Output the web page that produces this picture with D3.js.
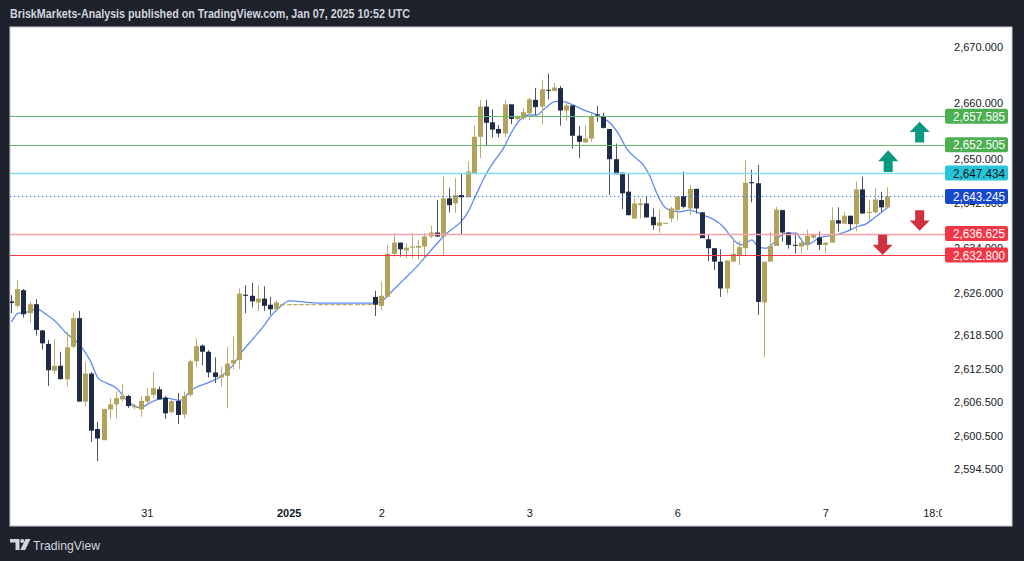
<!DOCTYPE html>
<html><head><meta charset="utf-8">
<script src="https://cdn.jsdelivr.net/npm/d3@7"></script>
<style>html,body{margin:0;padding:0;background:#1e222d;} svg{display:block}</style>
</head><body><svg id="c" width="1024" height="561"></svg>
<script>
// ---- DATA (hourly XAUUSD candles, index 0 = first visible candle) ----
const openP = [2624.5,2623.7,2626.5,2622.4,2624.0,2619.3,2616.9,2612.1,2613.0,2610.6,
2616.4,2621.5,2606.6,2611.6,2601.7,2599.7,2605.2,2606.1,2607.0,2607.6,
2605.6,2605.2,2606.6,2607.8,2608.8,2607.3,2604.7,2606.7,2604.3,2607.8,
2613.8,2616.6,2615.5,2611.8,2610.9,2611.2,2613.4,2614.0,2625.7,2625.5,
2624.3,2625.0,2623.9,2623.1,
2624.0,2624.0,2624.0,2624.0,2624.0,2624.0,2624.0,2624.0,2624.0,2624.0,2624.0,2624.0,2624.0,2624.0,2624.0,
2625.3,2623.7,2625.3,2633.0,2635.0,2633.6,2634.1,2634.1,2634.3,2636.1,
2636.8,2636.1,2642.9,2642.0,2643.5,2643.1,2647.4,2653.9,2659.3,2656.5,
2655.3,2654.5,2659.7,2657.1,2657.2,2658.1,2660.5,2659.3,2662.3,2662.1,
2662.6,2658.6,2659.5,2654.1,2652.9,2653.6,2657.9,2657.5,2655.3,2649.9,
2647.5,2644.1,2639.3,2641.7,2642.0,2639.6,2638.0,2638.4,2639.3,2640.8,
2643.3,2641.1,2644.6,2640.4,2635.6,2634.0,2631.6,2626.8,2631.6,2632.8,
2634.0,2645.8,2645.6,2624.3,2631.6,2634.4,2640.8,2636.8,2634.6,2634.3,
2634.7,2635.9,2635.9,2634.6,2635.0,2639.0,2638.4,2639.8,2638.3,2644.5,
2640.3,2640.4,2642.6,2641.3];
const highP = [2625.6,2628.3,2626.7,2624.4,2624.9,2619.4,2617.6,2617.8,2615.5,2619.0,
2622.5,2622.8,2613.7,2611.9,2603.0,2605.3,2607.2,2608.4,2609.7,2607.8,
2606.2,2607.6,2609.0,2611.9,2609.3,2607.6,2606.9,2608.1,2608.4,2614.1,
2617.9,2616.8,2615.8,2614.5,2612.8,2616.4,2618.2,2626.8,2627.4,2627.8,
2627.4,2627.2,2625.3,2624.7,
2624.0,2624.0,2624.0,2624.0,2624.0,2624.0,2624.0,2624.0,2624.0,2624.0,2624.0,2624.0,2624.0,2624.0,2624.0,
2626.4,2628.0,2634.6,2636.7,2635.0,2634.9,2636.7,2635.5,2636.7,2638.0,
2642.6,2646.8,2644.8,2646.5,2647.4,2649.5,2656.0,2660.5,2660.5,2658.8,
2656.0,2660.5,2659.7,2657.7,2659.0,2660.9,2662.6,2664.1,2665.2,2663.5,
2663.0,2660.2,2659.5,2655.8,2656.0,2658.1,2659.4,2658.2,2655.3,2652.7,
2647.5,2647.4,2642.9,2642.9,2643.2,2641.1,2640.9,2638.6,2641.4,2643.2,
2647.7,2645.3,2644.6,2640.5,2636.4,2634.0,2633.8,2631.8,2635.8,2635.2,
2649.7,2648.0,2648.9,2631.6,2637.0,2641.4,2640.9,2636.8,2636.7,2635.8,
2637.3,2636.6,2637.0,2635.0,2641.3,2641.3,2640.5,2639.8,2645.9,2646.8,
2642.6,2644.7,2644.1,2644.9];
const lowP = [2622.4,2623.3,2621.6,2620.6,2618.4,2615.9,2609.4,2611.5,2610.6,2609.3,
2616.1,2606.6,2605.7,2599.4,2596.0,2599.7,2603.5,2603.6,2606.6,2605.5,
2605.2,2603.9,2606.0,2607.2,2607.0,2603.5,2604.5,2602.6,2603.6,2607.5,
2612.8,2613.1,2610.9,2609.9,2609.3,2605.4,2612.4,2612.4,2622.4,2623.4,
2622.8,2622.8,2622.1,2623.0,
2624.0,2624.0,2624.0,2624.0,2624.0,2624.0,2624.0,2624.0,2624.0,2624.0,2624.0,2624.0,2624.0,2624.0,2624.0,
2621.9,2623.0,2625.2,2632.5,2632.5,2632.2,2632.2,2632.0,2632.2,2635.8,
2636.0,2632.8,2640.4,2640.3,2636.4,2643.1,2647.4,2650.1,2652.4,2653.8,
2653.8,2653.9,2656.2,2656.8,2656.9,2656.9,2657.8,2656.1,2660.6,2662.1,
2655.9,2656.8,2651.8,2650.1,2652.9,2653.0,2656.6,2655.4,2643.5,2647.2,
2641.0,2639.9,2639.3,2639.3,2639.5,2637.3,2636.8,2638.3,2638.6,2639.0,
2641.1,2639.9,2640.2,2635.8,2631.7,2630.1,2625.3,2625.9,2631.6,2631.0,
2632.7,2642.2,2622.1,2614.6,2631.6,2634.4,2635.2,2633.9,2633.1,2633.1,
2633.7,2635.7,2633.7,2633.1,2635.0,2637.0,2638.3,2637.3,2637.0,2640.1,
2638.7,2640.2,2640.5,2641.3];
const closeP = [2624.2,2626.7,2622.2,2624.0,2619.4,2617.0,2612.2,2613.0,2610.6,2616.3,
2621.5,2606.6,2611.6,2601.4,2600.0,2605.3,2606.1,2607.2,2607.6,2605.8,
2605.9,2606.7,2607.6,2609.0,2607.0,2604.5,2606.7,2604.2,2607.6,2613.8,
2616.5,2615.5,2611.8,2611.0,2611.3,2613.4,2614.0,2625.9,2625.5,2624.5,
2625.0,2623.7,2623.1,2624.3,
2624.0,2624.0,2624.0,2624.0,2624.0,2624.0,2624.0,2624.0,2624.0,2624.0,2624.0,2624.0,2624.0,2624.0,2624.0,
2623.9,2625.5,2633.0,2635.0,2633.8,2634.1,2634.3,2634.4,2636.1,2636.8,
2636.1,2642.9,2641.7,2643.5,2643.1,2647.7,2653.9,2659.3,2656.4,2655.2,
2654.5,2659.7,2657.1,2657.5,2658.3,2660.6,2659.2,2662.4,2662.2,2662.7,
2658.6,2659.5,2654.1,2653.0,2653.6,2657.5,2657.7,2655.5,2649.9,2647.2,
2643.8,2639.9,2642.0,2642.0,2639.5,2638.1,2638.6,2638.5,2641.1,2643.2,
2641.4,2644.6,2641.1,2635.8,2634.0,2631.6,2626.8,2631.8,2633.0,2634.2,
2645.7,2645.6,2624.4,2631.6,2634.4,2640.9,2636.8,2634.6,2634.5,2635.0,
2636.2,2636.4,2634.6,2635.0,2639.0,2638.4,2639.8,2638.3,2644.5,2640.2,
2640.5,2642.7,2641.3,2643.245];

// moving average (candle index, price)
const maIdx = [0,1.1,2.2,4.1,5.7,6.8,8.9,11.1,12.7,14.1,15.4,17.0,18.9,20.8,23.0,25.1,27.3,29.2,31.9,34.1,35.9,37.3,39.2,40.8,42.2,43.5,45.0,49.5,58.6,60.2,61.3,63.5,65.7,67.8,70.0,74.0,75.4,77.0,78.4,79.7,81.1,82.4,83.8,85.1,86.5,88.1,89.4,91.0,92.7,94.3,95.9,97.2,98.5,99.7,101.3,102.4,103.5,104.6,105.6,106.7,108.3,109.9,111.0,112.1,113.7,115.4,116.4,117.5,118.5,120.0,121.0,122.4,123.2,124.5,125.9,127.2,128.0,128.9,130.0,131.0,133.7,135.4,137.0,138.6,139.7,141.1,142.1];
const maVal = [2620.8,2622.4,2622.5,2623.1,2622.1,2621.2,2618.8,2616.7,2614.0,2610.7,2609.9,2609.0,2606.6,2605.5,2606.7,2607.2,2606.8,2608.7,2610.0,2611.2,2613.1,2615.4,2617.9,2620.0,2622.1,2623.5,2624.6,2624.2,2624.2,2624.7,2625.9,2628.3,2630.7,2633.4,2636.1,2640.5,2643.8,2647.4,2649.8,2651.8,2654.8,2656.9,2657.8,2657.8,2659.0,2660.2,2660.2,2659.6,2658.7,2658.1,2657.2,2656.2,2654.2,2651.8,2650.0,2648.9,2646.8,2643.8,2641.7,2640.8,2640.5,2640.8,2640.5,2639.9,2639.2,2637.8,2636.4,2635.0,2634.6,2635.5,2634.3,2634.0,2634.6,2636.1,2636.7,2636.7,2635.5,2634.6,2635.2,2635.9,2636.4,2637.0,2637.8,2638.4,2639.3,2640.5,2641.3];

// horizontal levels
const levelVals = [2657.585, 2652.505, 2647.434, 2643.245, 2636.625, 2632.800];
const levelKind = ["green","green","cyan","last","redLight","red"];

// axis ticks
const priceTicks = [2670, 2660, 2650, 2642, 2634, 2626, 2618.5, 2612.5, 2606.5, 2600.5, 2594.5];
const timeTickIdx = [22, 45, 60, 84, 108, 132, 150];
const timeTickLab = ["31", "2025", "2", "3", "6", "7", "18:00"];

// arrow annotations (candle index, tip price, base price)
const arrowIdx  = [147.2, 142.1, 147.2, 141.2];
const arrowTip  = [2656.6, 2651.5, 2637.1, 2632.8];
const arrowBase = [2652.9, 2647.6, 2640.8, 2636.4];
const arrowDir  = ["up","up","down","down"];

// ---- DRAW ----
const svg = d3.select("#c");
const W = 1024, H = 561;
const panel = {l:10, t:27, r:1012, b:526};
const plotR = 941, plotB = 500;

const x = d3.scaleLinear().domain([-0.253, 150.5]).range([panel.l, 940]);
const y = d3.scaleLinear().domain([2670, 2594.5]).range([46.7, 469.3]);

svg.append("rect").attr("width", W).attr("height", H).attr("fill", "#1e222d");
svg.append("rect").attr("x", panel.l).attr("y", panel.t)
  .attr("width", panel.r - panel.l).attr("height", panel.b - panel.t)
  .attr("fill", "#ffffff").attr("stroke", "#c9ccd3").attr("stroke-width", 1);

// header
svg.append("text").attr("x", 10).attr("y", 18)
  .attr("font-family", "Liberation Sans, Arial, sans-serif").attr("font-size", 12.5)
  .attr("font-weight", 600).attr("fill", "#d1d4dc")
  .attr("textLength", 400).attr("lengthAdjust", "spacingAndGlyphs")
  .text("BriskMarkets-Analysis published on TradingView.com, Jan 07, 2025 10:52 UTC");

// footer logo
const logo = svg.append("g").attr("fill", "#d1d4dc");
logo.append("path").attr("d", "M10,539 H19.5 V550 H15.5 V542.6 H10 Z");
logo.append("circle").attr("cx", 22.3).attr("cy", 541).attr("r", 2);
logo.append("path").attr("d", "M25.5,539 H30.5 L25.2,550 H20.2 Z");
svg.append("text").attr("x", 33).attr("y", 550)
  .attr("font-family", "Liberation Sans, Arial, sans-serif").attr("font-size", 13)
  .attr("fill", "#d1d4dc").attr("textLength", 67).attr("lengthAdjust", "spacingAndGlyphs")
  .text("TradingView");

const defs = svg.append("defs");
defs.append("clipPath").attr("id", "plotClip").append("rect")
  .attr("x", panel.l).attr("y", panel.t).attr("width", plotR - panel.l).attr("height", plotB - panel.t);
defs.append("clipPath").attr("id", "timeClip").append("rect")
  .attr("x", panel.l).attr("y", plotB).attr("width", 942 - panel.l).attr("height", panel.b - plotB);

// price axis tick labels
const axisFont = "Liberation Sans, Arial, sans-serif";
svg.append("g").selectAll("text").data(priceTicks).join("text")
  .attr("x", 1003).attr("y", d => y(d)).attr("dy", "0.36em")
  .attr("text-anchor", "end").attr("font-family", axisFont).attr("font-size", 11)
  .attr("fill", "#131722").text(d => d3.format(",.3f")(d));

// time axis labels
svg.append("g").attr("clip-path", "url(#timeClip)").selectAll("text").data(timeTickIdx).join("text")
  .attr("x", d => x(d)).attr("y", 517).attr("text-anchor", "middle")
  .attr("font-family", axisFont).attr("font-size", 11)
  .attr("font-weight", (d, i) => timeTickLab[i] === "2025" ? 700 : 400)
  .attr("fill", "#131722").text((d, i) => timeTickLab[i]);

const plot = svg.append("g").attr("clip-path", "url(#plotClip)");

// level lines
const levelStyle = {
  green: {line:"#66bb6a", bg:"#4caf50", fg:"#ffffff", dash:null},
  cyan: {line:"#80deea", bg:"#26c6da", fg:"#131722", dash:null, w:1.5},
  last: {line:"#2962ff", bg:"#1848cc", fg:"#ffffff", dash:"1.2,2.8"},
  redLight: {line:"#f7a1a8", bg:"#f23645", fg:"#ffffff", dash:null, w:1.3},
  red: {line:"#f23645", bg:"#f23645", fg:"#ffffff", dash:null}
};
levelVals.forEach((v, i) => {
  const s = levelStyle[levelKind[i]];
  svg.append("line").attr("x1", panel.l).attr("x2", 945)
    .attr("y1", Math.round(y(v)) + 0.5).attr("y2", Math.round(y(v)) + 0.5)
    .attr("stroke", s.line).attr("stroke-width", s.w || 1)
    .attr("stroke-dasharray", s.dash);
});

// MA line
plot.append("path").datum(maIdx.map((d, i) => [d, maVal[i]]))
  .attr("fill", "none").attr("stroke", "#5b8cf0").attr("stroke-width", 1.3)
  .attr("d", d3.line().x(d => x(d[0])).y(d => y(d[1])).curve(d3.curveMonotoneX));

// candles
const gold = "#b1a35c", goldWick = "#bcae68", navy = "#1f2a47", navyWick = "#4c5369";
const candles = openP.map((o, i) => ({i, o, h: highP[i], l: lowP[i], c: closeP[i]}));
const cg = plot.append("g");
candles.forEach(d => {
  const up = d.c >= d.o;
  const cx = x(d.i);
  const bx = Math.round(cx - 2.5);
  const top = y(Math.max(d.o, d.c)), bot = y(Math.min(d.o, d.c));
  cg.append("rect").attr("x", bx + 2).attr("width", 1)
    .attr("y", y(d.h)).attr("height", Math.max(1, y(d.l) - y(d.h)))
    .attr("fill", up ? goldWick : navyWick);
  cg.append("rect").attr("x", bx).attr("width", 5)
    .attr("y", top).attr("height", Math.max(1, bot - top))
    .attr("fill", up ? gold : navy);
});

// arrows
arrowIdx.forEach((ai, k) => {
  const cx = x(ai), tip = y(arrowTip[k]), base = y(arrowBase[k]);
  const dirUp = arrowDir[k] === "up";
  const hw = 10, sw = 4.5;
  const headLen = (base - tip) * 0.5;
  const neck = tip + headLen;
  const path = d3.path();
  path.moveTo(cx, tip);
  path.lineTo(cx + hw, neck);
  path.lineTo(cx + sw, neck);
  path.lineTo(cx + sw, base);
  path.lineTo(cx - sw, base);
  path.lineTo(cx - sw, neck);
  path.lineTo(cx - hw, neck);
  path.closePath();
  svg.append("path").attr("d", path.toString())
    .attr("fill", dirUp ? "#089981" : "#d1303f");
});

// level labels
levelVals.forEach((v, i) => {
  const s = levelStyle[levelKind[i]];
  const yy = y(v);
  svg.append("rect").attr("x", 945).attr("y", yy - 7.5).attr("width", 63).attr("height", 15)
    .attr("rx", 2).attr("fill", s.bg);
  svg.append("text").attr("x", 1005).attr("y", yy).attr("dy", "0.36em")
    .attr("text-anchor", "end").attr("font-family", axisFont).attr("font-size", 13)
    .attr("textLength", 52).attr("lengthAdjust", "spacingAndGlyphs")
    .attr("fill", s.fg).text(d3.format(",.3f")(v));
});
</script>
</body></html>
